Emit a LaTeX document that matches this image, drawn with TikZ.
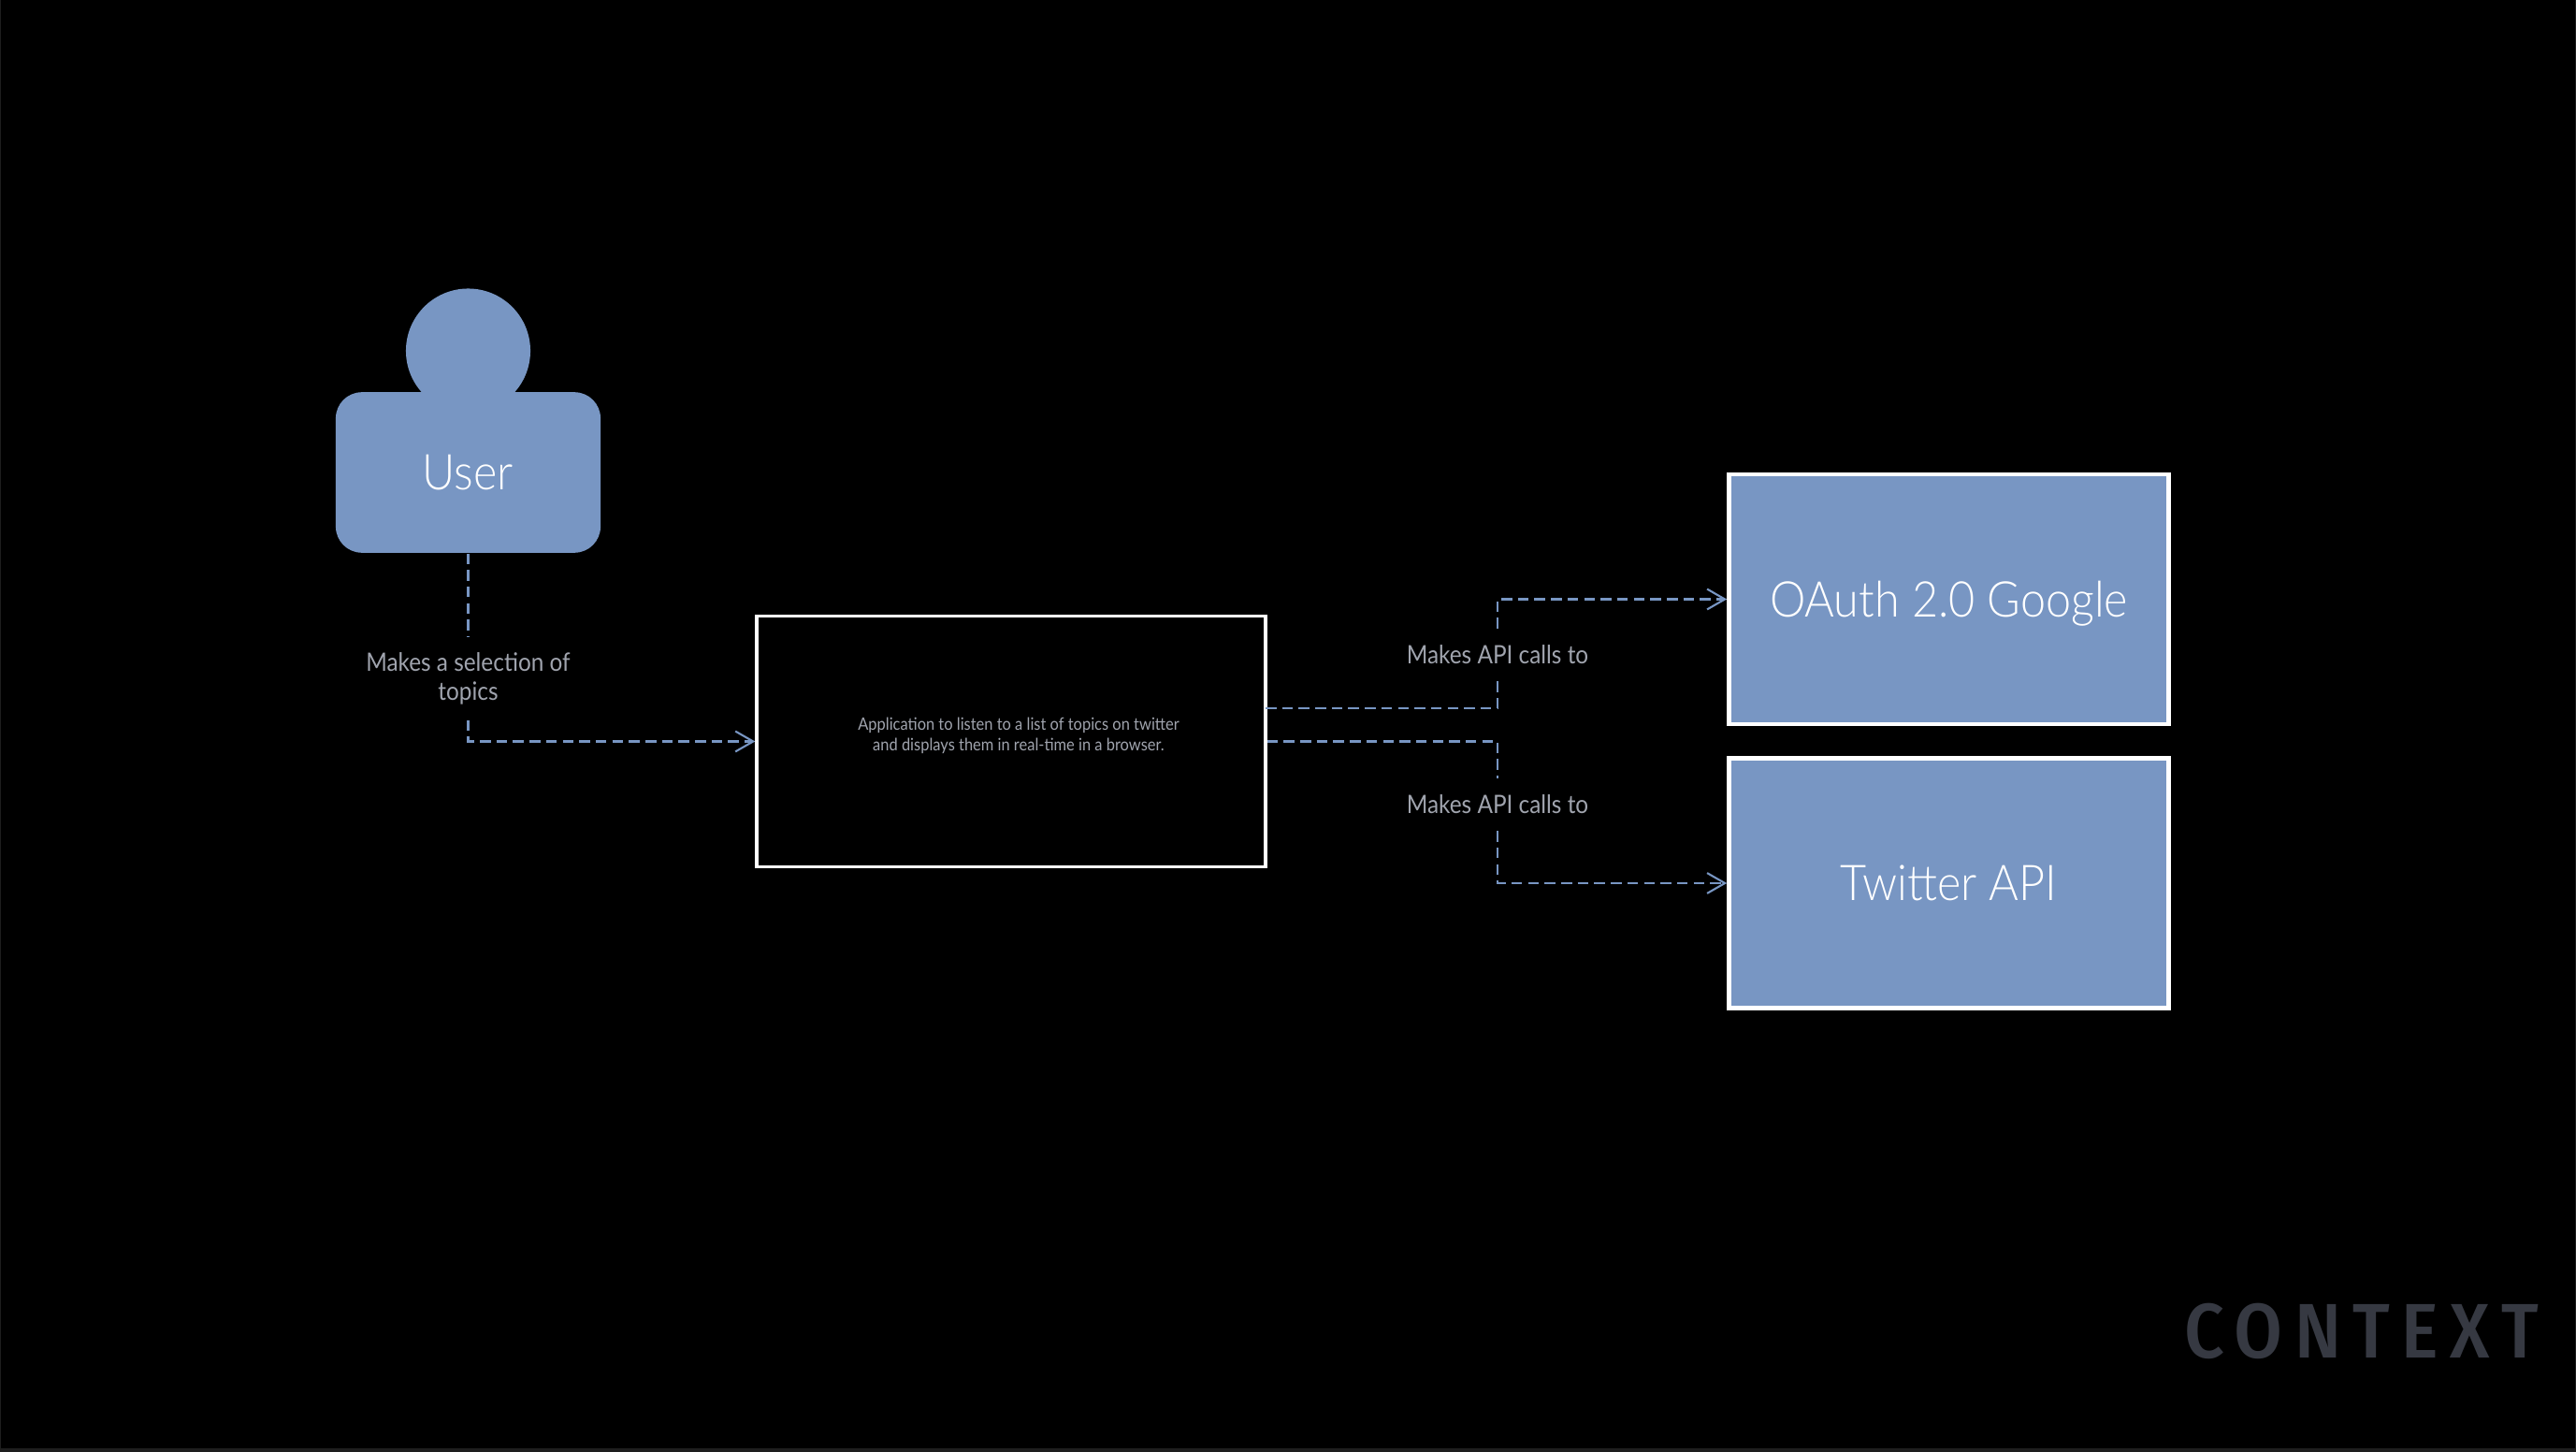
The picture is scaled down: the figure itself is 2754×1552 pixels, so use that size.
\documentclass[tikz,border=0pt]{standalone}
\usepackage{fontspec}
\setmainfont[FakeStretch=0.92]{Lato Light}
\newfontfamily\labelfont[FakeStretch=0.9]{Lato}
\newfontfamily\wordfont[LetterSpace=15]{Fira Sans Condensed Medium}
\usetikzlibrary{arrows.meta}
\definecolor{userblue}{RGB}{120,150,195}
\definecolor{labelgrey}{RGB}{160,164,174}
\definecolor{wordgrey}{RGB}{54,57,66}
\definecolor{edgegrey}{RGB}{30,30,30}
\tikzset{
    actor/.style={fill=userblue,text=white,text height=10.8pt,text depth=0pt,font=\fontsize{15}{19}\selectfont},
    extbox/.style={actor,draw=white,line width=1.25pt,minimum width=4.70cm,minimum height=2.67cm},
    appbox/.style={draw=white,line width=1pt,minimum width=5.435cm,minimum height=2.68cm},
    flowlabel/.style={text=labelgrey,align=center,font=\labelfont\fontsize{7.7}{8.8}\selectfont},
    flow/.style={draw=userblue,line width=0.6pt,dash pattern=on 3.27pt off 1.76pt},
    flowarrow/.style={flow,-{Straight Barb[length=5.4pt,width=6.2pt]}}
}
\begin{document}
\begin{tikzpicture}[x=0.01cm,y=-0.01cm]
    \fill[edgegrey] (0,0) rectangle (2754,1552);
    \fill[black] (1.5,0) rectangle (2752.5,1548);
    \useasboundingbox (0,0) rectangle (2754,1552);

    \node[circle,fill=userblue,minimum size=1.33cm,inner sep=0] (head) at (500.5,375) {};
    \node[actor,rounded corners=0.28cm,minimum width=2.83cm,minimum height=1.715cm] (user) at (500.5,505) {User};
    \node[appbox] (app) at (1081,792.5) {};
    \node[text=labelgrey,align=center,font=\labelfont\fontsize{5.2}{6.3}\selectfont] (apptext) at (1089,786) {Application to listen to a list of topics on twitter\\and displays them in real-time in a browser.};
    \node[extbox] (oauth) at (2083.5,640.5) {OAuth 2.0 Google};
    \node[extbox] (twitter) at (2083.5,944) {Twitter API};

    \node[flowlabel,minimum height=0.88cm] (selects) at (500.5,725) {Makes a selection of\\topics};
    \node[flowlabel,minimum height=0.55cm] (callsup) at (1601,700) {Makes API calls to};
    \node[flowlabel,minimum height=0.55cm] (callsdown) at (1601,860) {Makes API calls to};

    \coordinate (appout) at (1353,757);

    \draw[flow] (user.south) -- (selects.north);
    \draw[flowarrow] (selects.south) |- (app.west);
    \draw[flow] (appout) -| (callsup.south);
    \draw[flowarrow] (callsup.north) |- (oauth.west);
    \draw[flow] (app.east) -| (callsdown.north);
    \draw[flowarrow] (callsdown.south) |- (twitter.west);

    \node[text=wordgrey,font=\wordfont\fontsize{23.5}{26}\selectfont] (word) at (2524.5,1422.5) {CONTEXT};
\end{tikzpicture}
\end{document}
